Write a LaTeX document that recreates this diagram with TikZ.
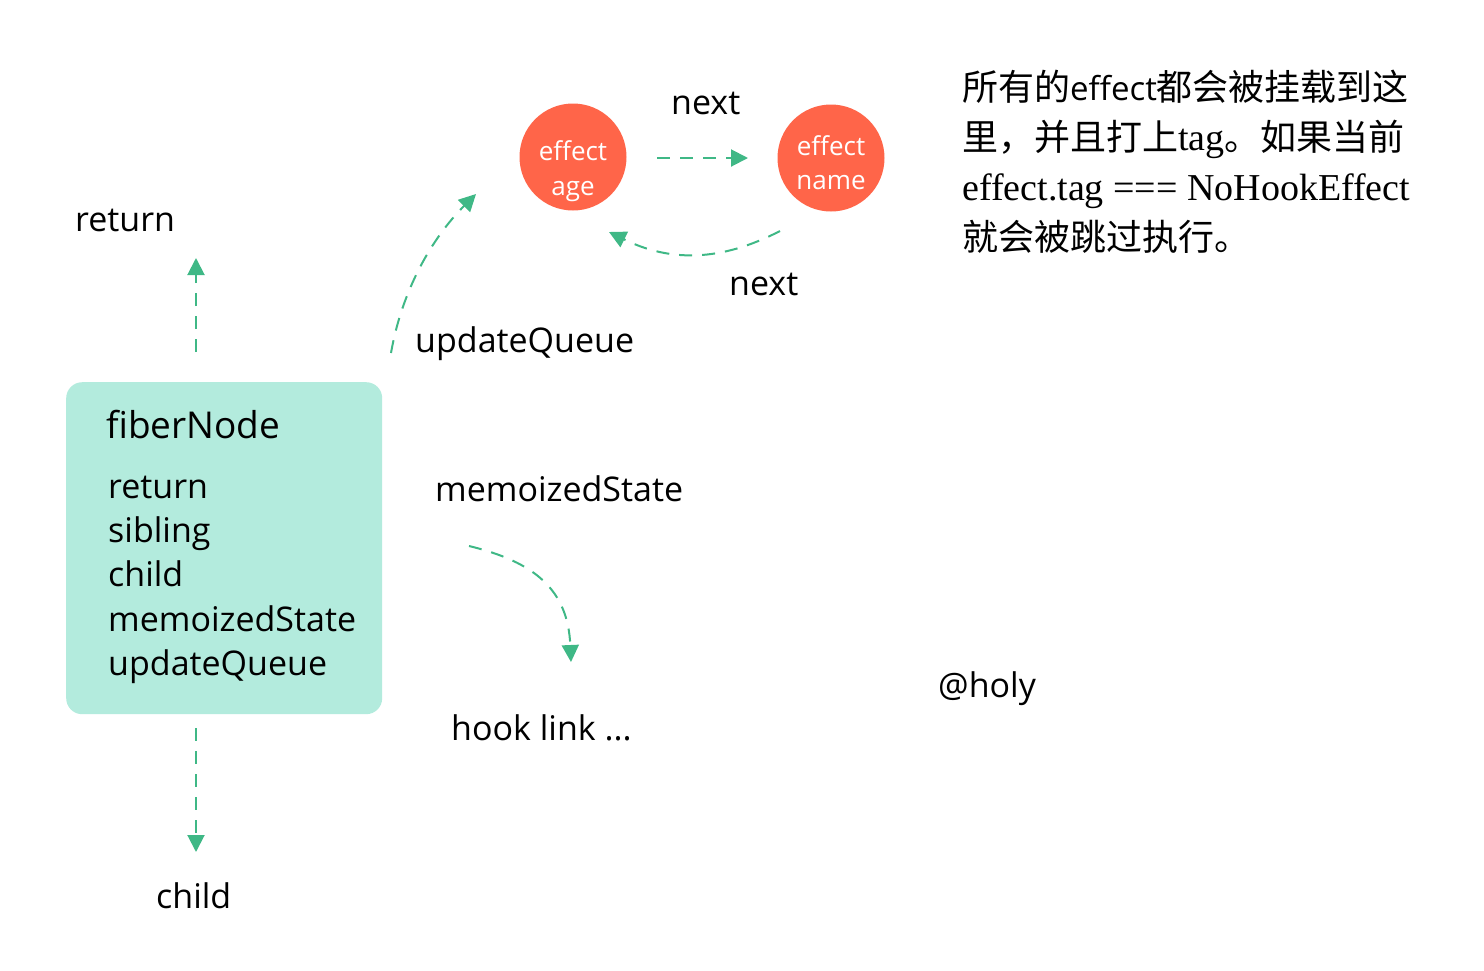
\documentclass[tikz,border=0pt]{standalone}
\usepackage{fontspec}
\setmainfont{Open Sans}
\newfontfamily\cjkfont{Noto Sans CJK SC}
\newfontfamily\serifl{Liberation Serif}
\usetikzlibrary{arrows.meta}
\definecolor{arrowgreen}{HTML}{3FB886}
\definecolor{boxfill}{HTML}{B3EBDD}
\definecolor{effectred}{HTML}{FF6549}
\begin{document}
\begin{tikzpicture}[x=1pt,y=-1pt,
  conn/.style={draw=arrowgreen, line width=2pt, dash pattern=on 13pt off 10pt,
    -{Triangle[length=17pt,width=17pt]}},
  lbl/.style={anchor=base west, inner sep=0pt, font=\fontsize{34}{40}\selectfont},
  cjklbl/.style={anchor=base west, inner sep=0pt, font=\fontsize{36}{40}\selectfont},
  effectnode/.style={circle, fill=effectred, inner sep=0pt, minimum size=107pt},
  circtext/.style={anchor=base, inner sep=0pt, text=white, font=\fontsize{26}{30}\selectfont}
]
\useasboundingbox (0,0) rectangle (1484,970);

% fiber node box
\node[fill=boxfill, rounded corners=16pt, minimum width=316pt, minimum height=332pt,
      anchor=north west, inner sep=0pt] (fiber) at (66,382) {};
\node[lbl, font=\fontsize{37}{40}\selectfont] (title) at (106,438) {fiberNode};
\node[lbl] (f1) at (108,498) {return};
\node[lbl] (f2) at (108,542) {sibling};
\node[lbl] (f3) at (108,586) {child};
\node[lbl] (f4) at (108,631) {memoizedState};
\node[lbl] (f5) at (108,675) {updateQueue};

% effect circles
\node[effectnode] (age) at (573,157) {};
\node[circtext] (agetxt1) at (573,160) {effect};
\node[circtext] (agetxt2) at (573,195) {age};
\node[effectnode] (name) at (831,158) {};
\node[circtext] (nametxt1) at (831,155) {effect};
\node[circtext] (nametxt2) at (831,189) {name};

% labels
\node[lbl] (lreturn) at (75,231) {return};
\node[lbl] (lchild) at (156,908) {child};
\node[lbl] (lupdate) at (415,352) {updateQueue};
\node[lbl] (lnext1) at (671,114) {next};
\node[lbl] (lnext2) at (729,295) {next};
\node[lbl] (lmemo) at (435,501) {memoizedState};
\node[lbl] (lhook) at (451,740) {hook link ...};
\node[lbl] (lholy) at (938,697) {@holy};

% note text
\node[cjklbl] (n1) at (962,100) {{\cjkfont 所有的}{\fontsize{33}{40}\selectfont effect}{\cjkfont 都会被挂载到这}};
\node[cjklbl] (n2) at (962,150) {{\cjkfont 里，并且打上}{\serifl\fontsize{38}{40}\selectfont tag}{\cjkfont 。如果当前}};
\node[cjklbl] (n3) at (962,200) {{\serifl\fontsize{38}{40}\selectfont effect.tag === NoHookEffect}};
\node[cjklbl] (n4) at (962,250) {{\cjkfont 就会被跳过执行。}};

% connector coordinates
\coordinate (upS) at (196,352);
\coordinate (upE) at (196,258);
\coordinate (dnS) at (196,728);
\coordinate (dnE) at (196,852);
\coordinate (uqS) at (391,353);
\coordinate (uqE) at (476,194);
\coordinate (nxS) at (657,158);
\coordinate (nxE) at (748,158);
\coordinate (bkS) at (780,231);
\coordinate (bkE) at (609,232);
\coordinate (msS) at (469,546);
\coordinate (msE) at (571,662);

\draw[conn] (upS) -- (upE);
\draw[conn] (dnS) -- (dnE);
\draw[conn] (uqS) .. controls (402,290) and (432,238) .. (uqE);
\draw[conn] (nxS) -- (nxE);
\draw[conn] (bkS) .. controls (720,262) and (670,262) .. (bkE);
\draw[conn] (msS) .. controls (535,562) and (568,590) .. (msE);
\end{tikzpicture}
\end{document}
